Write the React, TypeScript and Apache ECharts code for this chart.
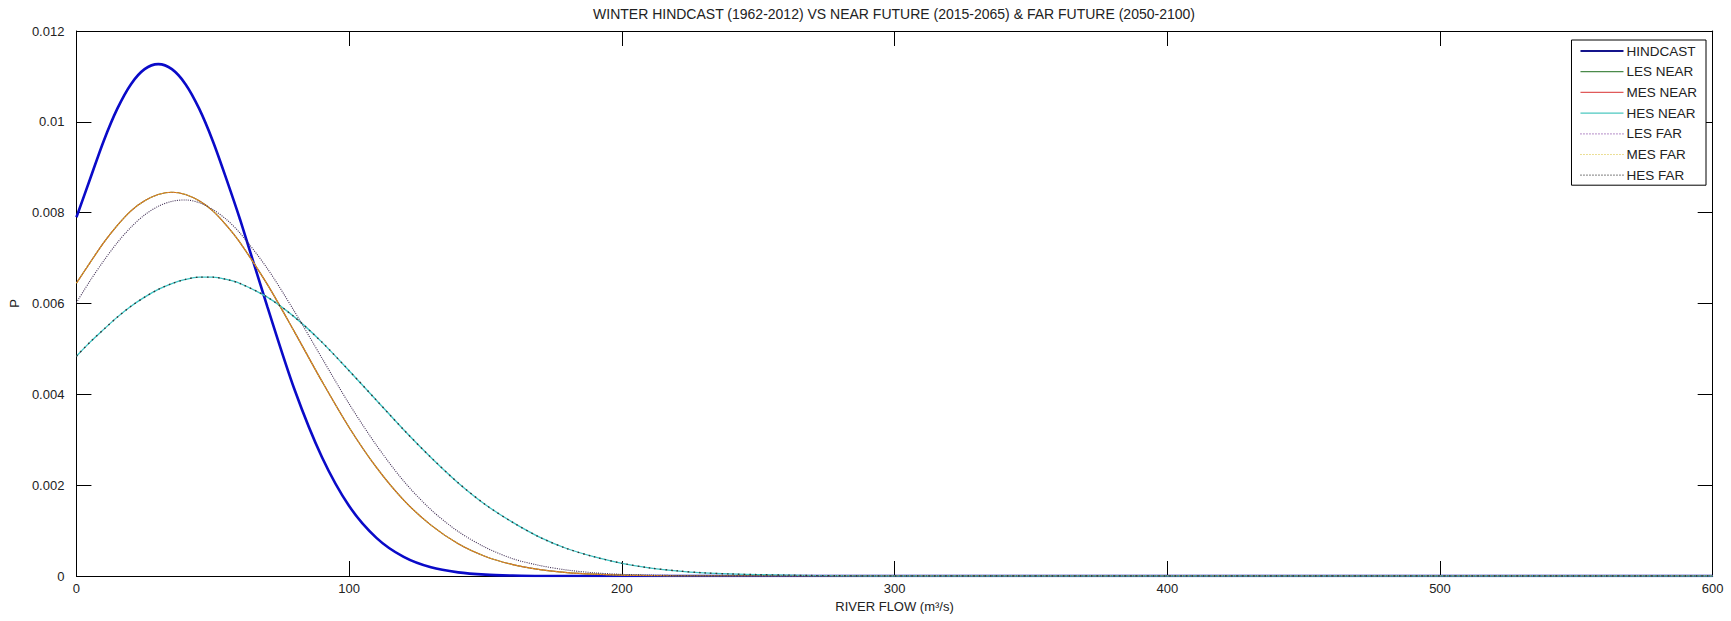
import React, { useEffect, useRef } from "react";
import * as echarts from "echarts";

const flow = [0, 5, 10, 15, 20, 25, 30, 35, 40, 45, 50, 55, 60, 70, 80, 90, 100, 110, 120, 130, 140, 150, 160, 170, 180, 190, 200, 210, 220, 230, 240, 250, 260, 270, 280, 290, 300, 400, 500, 600];

const hindcast = [0.0079, 0.00874, 0.00958, 0.01029, 0.01083, 0.01116, 0.01127, 0.01116, 0.01083, 0.01029, 0.00958, 0.00874, 0.00785,
  0.00593, 0.0041, 0.00262, 0.00154, 0.00084, 0.00042, 0.00019, 0.00008, 0.00003, 0.00001,
  0, 0, 0, 0, 0, 0, 0, 0, 0, 0, 0, 0, 0, 0, 0, 0, 0];

const lesNear = [0.00645, 0.0069, 0.00734, 0.00772, 0.00804, 0.00826, 0.0084, 0.00845, 0.0084, 0.00826, 0.00804, 0.00772, 0.00734,
  0.00642, 0.00537, 0.00429, 0.00327, 0.00239, 0.00167, 0.00112, 0.00071, 0.00043, 0.00025, 0.00014, 0.000075, 0.00004, 0.00002, 0.00001,
  0, 0, 0, 0, 0, 0, 0, 0, 0, 0, 0, 0];

const mesNear = [0.00645, 0.0069, 0.00734, 0.00772, 0.00804, 0.00826, 0.0084, 0.00845, 0.0084, 0.00826, 0.00804, 0.00772, 0.00734,
  0.00642, 0.00537, 0.00429, 0.00327, 0.00239, 0.00167, 0.00112, 0.00071, 0.00043, 0.00025, 0.00014, 0.000075, 0.00004, 0.00002, 0.00001,
  0, 0, 0, 0, 0, 0, 0, 0, 0, 0, 0, 0];

const hesNear = [0.00484, 0.00515, 0.00543, 0.0057, 0.00594, 0.00614, 0.00631, 0.00644, 0.00653, 0.00658, 0.00658, 0.00653, 0.00644,
  0.00614, 0.0057, 0.00515, 0.00452, 0.00387, 0.00322, 0.00261, 0.00205, 0.00157, 0.00118, 0.00085, 0.0006, 0.00042, 0.00028, 0.00018, 0.000115, 0.00007, 0.000045, 0.00003, 0.00002, 0.00001, 0.000005,
  0, 0, 0, 0, 0];

const lesFar = [0.00602, 0.0065, 0.00694, 0.00734, 0.00768, 0.00795, 0.00814, 0.00825, 0.00828, 0.00822, 0.00807, 0.00785, 0.00755,
  0.00677, 0.00582, 0.0048, 0.00379, 0.00288, 0.00209, 0.00146, 0.00098, 0.00063, 0.00038, 0.00023, 0.00013, 0.00007, 0.000036, 0.00002, 0.00001,
  0, 0, 0, 0, 0, 0, 0, 0, 0, 0, 0];

const mesFar = [0.00645, 0.0069, 0.00734, 0.00772, 0.00804, 0.00826, 0.0084, 0.00845, 0.0084, 0.00826, 0.00804, 0.00772, 0.00734,
  0.00642, 0.00537, 0.00429, 0.00327, 0.00239, 0.00167, 0.00112, 0.00071, 0.00043, 0.00025, 0.00014, 0.000075, 0.00004, 0.00002, 0.00001,
  0, 0, 0, 0, 0, 0, 0, 0, 0, 0, 0, 0];

const hesFar = [0.00484, 0.00515, 0.00543, 0.0057, 0.00594, 0.00614, 0.00631, 0.00644, 0.00653, 0.00658, 0.00658, 0.00653, 0.00644,
  0.00614, 0.0057, 0.00515, 0.00452, 0.00387, 0.00322, 0.00261, 0.00205, 0.00157, 0.00118, 0.00085, 0.0006, 0.00042, 0.00028, 0.00018, 0.000115, 0.00007, 0.000045, 0.00003, 0.00002, 0.00001, 0.000005,
  0, 0, 0, 0, 0];

const seriesNames = ["HINDCAST", "LES NEAR", "MES NEAR", "HES NEAR", "LES FAR", "MES FAR", "HES FAR"];
const seriesData = [hindcast, lesNear, mesNear, hesNear, lesFar, mesFar, hesFar];
const seriesColors = ["#0a0ac8", "#3f8f3f", "#e8602a", "#3cc4c4", "#3e2c52", "#e0b820", "#333333"];
const legendColors = ["#14148c", "#4a8a4a", "#e05a5a", "#4cc8c0", "#8a4aa8", "#d8c030", "#333333"];
const seriesDash: any[] = ["solid", "solid", "solid", "solid", [1, 1.2], [1, 2], [1.6, 4]];
const seriesWidths = [2.6, 1.2, 1.2, 1.3, 1.1, 1.1, 1.4];
const seriesOpacity = [1, 1, 0.88, 1, 1, 1, 1];
const legendDash: any[] = ["solid", "solid", "solid", "solid", [1, 2], [1, 2], [1, 2]];

const titleText = "WINTER HINDCAST (1962-2012) VS NEAR FUTURE (2015-2065) & FAR FUTURE (2050-2100)";
const xName = "RIVER FLOW (m³/s)";
const yName = "P";

const FONT = "'Liberation Sans', Arial, sans-serif";

export default function App() {
  const ref = useRef<HTMLDivElement>(null);
  useEffect(() => {
    document.body.style.margin = "0";
    const chart = echarts.init(ref.current!, null, { renderer: "svg" });
    const axisLine = { show: true, onZero: false, lineStyle: { color: "#000", width: 1 } };
    const tick = { show: true, inside: true, length: 15, lineStyle: { color: "#000", width: 1 } };
    const labelStyle = { color: "#222", fontSize: 13, fontFamily: FONT };
    const option = {
      animation: false,
      backgroundColor: "#fff",
      title: {
        text: titleText,
        left: 894,
        top: 7,
        padding: 0,
        textAlign: "center",
        textStyle: { fontSize: 14, fontWeight: "normal", color: "#222", fontFamily: FONT },
      },
      legend: {
        orient: "vertical",
        right: 25,
        top: 40,
        padding: [4, 9, 3, 8],
        itemWidth: 43,
        itemHeight: 14,
        itemGap: 6.7,
        borderColor: "#000",
        borderWidth: 1,
        backgroundColor: "#fff",
        itemStyle: { opacity: 0 },
        textStyle: { fontSize: 13.5, color: "#222", fontFamily: FONT, padding: [0, 0, 0, -2] },
        data: seriesNames.map((name, i) => ({
          name,
          itemStyle: { opacity: 0 },
          lineStyle: { color: legendColors[i], width: i === 0 ? 2 : 1.2, type: legendDash[i], opacity: 1 },
        })),
      },
      grid: { left: 75.5, right: 18.3, top: 31, bottom: 45, containLabel: false },
      xAxis: [
        {
          type: "value",
          min: 0,
          max: 600,
          interval: 100,
          position: "bottom",
          axisLine,
          axisTick: tick,
          splitLine: { show: false },
          axisLabel: { ...labelStyle, margin: 6 },
          name: xName,
          nameLocation: "middle",
          nameGap: 24,
          nameTextStyle: { ...labelStyle },
        },
        {
          type: "value",
          min: 0,
          max: 600,
          interval: 100,
          position: "top",
          axisLine,
          axisTick: tick,
          splitLine: { show: false },
          axisLabel: { show: false },
        },
      ],
      yAxis: [
        {
          type: "value",
          min: 0,
          max: 0.012,
          interval: 0.002,
          position: "left",
          axisLine,
          axisTick: tick,
          splitLine: { show: false },
          axisLabel: { ...labelStyle, margin: 12, formatter: (v: number) => (v === 0 ? "0" : String(parseFloat(v.toFixed(3)))) },
          name: yName,
          nameLocation: "middle",
          nameGap: 49,
          nameRotate: 90,
          nameTextStyle: { ...labelStyle },
        },
        {
          type: "value",
          min: 0,
          max: 0.012,
          interval: 0.002,
          position: "right",
          axisLine,
          axisTick: tick,
          splitLine: { show: false },
          axisLabel: { show: false },
        },
      ],
      series: seriesNames.map((name, i) => ({
        name,
        type: "line",
        xAxisIndex: 0,
        yAxisIndex: 0,
        data: flow.map((x, j) => [x, seriesData[i][j]]),
        smooth: 0.3,
        symbol: "none",
        color: seriesColors[i],
        lineStyle: { color: seriesColors[i], width: seriesWidths[i], type: seriesDash[i], opacity: seriesOpacity[i] },
        emphasis: { disabled: true },
        silent: true,
      })),
    };
    chart.setOption(option as any);
    return () => chart.dispose();
  }, []);
  return <div ref={ref} style={{ width: 1731, height: 621 }} />;
}
